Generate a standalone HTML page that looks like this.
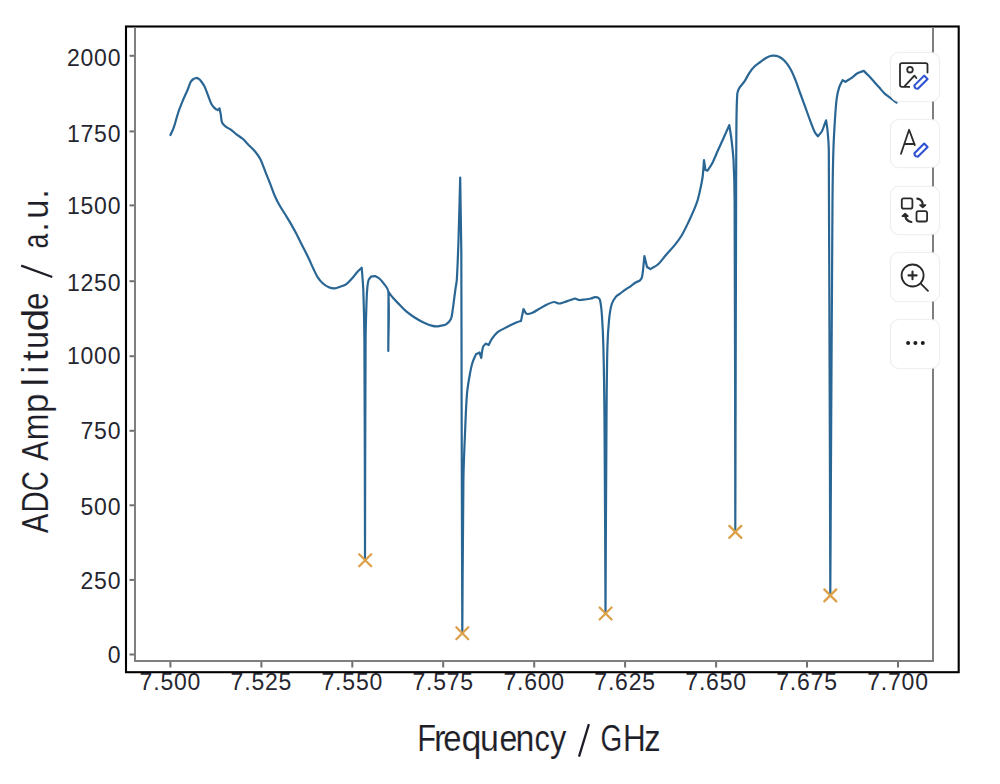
<!DOCTYPE html>
<html><head><meta charset="utf-8"><style>
html,body{margin:0;padding:0;background:#fff;width:1000px;height:784px;overflow:hidden;}
svg{position:absolute;left:0;top:0;}
.tl{font-family:"Liberation Sans",sans-serif;font-size:23px;fill:#262630;letter-spacing:0.8px;}
.lab{font-family:"Liberation Sans",sans-serif;font-size:36.5px;fill:#1e1e28;stroke:#fff;stroke-width:0.15px;}
.btn{position:absolute;left:890px;width:50px;height:49.5px;box-sizing:border-box;border:1.5px solid #efefef;border-radius:9px;background:#fff;box-shadow:0 0 2px rgba(0,0,0,0.05);}
</style></head><body>
<svg width="1000" height="784" viewBox="0 0 1000 784">
<rect x="126" y="26.5" width="832.7" height="645.7" fill="none" stroke="#000" stroke-width="2.1"/>
<path d="M135 27 V661 H933 V27" fill="none" stroke="#7f7f7f" stroke-width="2"/>
<line x1="129.5" y1="654.5" x2="134" y2="654.5" stroke="#6f6f6f" stroke-width="2"/>
<text x="121.3" y="662.5" text-anchor="end" class="tl">0</text>
<line x1="129.5" y1="579.9" x2="134" y2="579.9" stroke="#6f6f6f" stroke-width="2"/>
<text x="121.3" y="588.7" text-anchor="end" class="tl">250</text>
<line x1="129.5" y1="505.3" x2="134" y2="505.3" stroke="#6f6f6f" stroke-width="2"/>
<text x="121.3" y="514.7" text-anchor="end" class="tl">500</text>
<line x1="129.5" y1="430.8" x2="134" y2="430.8" stroke="#6f6f6f" stroke-width="2"/>
<text x="121.3" y="438.9" text-anchor="end" class="tl">750</text>
<line x1="129.5" y1="356.2" x2="134" y2="356.2" stroke="#6f6f6f" stroke-width="2"/>
<text x="121.3" y="363.5" text-anchor="end" class="tl">1000</text>
<line x1="129.5" y1="281.2" x2="134" y2="281.2" stroke="#6f6f6f" stroke-width="2"/>
<text x="121.3" y="291.2" text-anchor="end" class="tl">1250</text>
<line x1="129.5" y1="205.4" x2="134" y2="205.4" stroke="#6f6f6f" stroke-width="2"/>
<text x="121.3" y="213.7" text-anchor="end" class="tl">1500</text>
<line x1="129.5" y1="131.4" x2="134" y2="131.4" stroke="#6f6f6f" stroke-width="2"/>
<text x="121.3" y="141.7" text-anchor="end" class="tl">1750</text>
<line x1="129.5" y1="55.8" x2="134" y2="55.8" stroke="#6f6f6f" stroke-width="2"/>
<text x="121.3" y="65.8" text-anchor="end" class="tl">2000</text>
<line x1="170.4" y1="662" x2="170.4" y2="667.5" stroke="#6f6f6f" stroke-width="2"/>
<text x="170.4" y="689.9" text-anchor="middle" class="tl">7.500</text>
<line x1="261.4" y1="662" x2="261.4" y2="667.5" stroke="#6f6f6f" stroke-width="2"/>
<text x="261.4" y="689.9" text-anchor="middle" class="tl">7.525</text>
<line x1="352.3" y1="662" x2="352.3" y2="667.5" stroke="#6f6f6f" stroke-width="2"/>
<text x="352.3" y="689.9" text-anchor="middle" class="tl">7.550</text>
<line x1="443.2" y1="662" x2="443.2" y2="667.5" stroke="#6f6f6f" stroke-width="2"/>
<text x="443.2" y="689.9" text-anchor="middle" class="tl">7.575</text>
<line x1="534.2" y1="662" x2="534.2" y2="667.5" stroke="#6f6f6f" stroke-width="2"/>
<text x="534.2" y="689.9" text-anchor="middle" class="tl">7.600</text>
<line x1="625.1" y1="662" x2="625.1" y2="667.5" stroke="#6f6f6f" stroke-width="2"/>
<text x="625.1" y="689.9" text-anchor="middle" class="tl">7.625</text>
<line x1="716.1" y1="662" x2="716.1" y2="667.5" stroke="#6f6f6f" stroke-width="2"/>
<text x="716.1" y="689.9" text-anchor="middle" class="tl">7.650</text>
<line x1="807.0" y1="662" x2="807.0" y2="667.5" stroke="#6f6f6f" stroke-width="2"/>
<text x="807.0" y="689.9" text-anchor="middle" class="tl">7.675</text>
<line x1="898.0" y1="662" x2="898.0" y2="667.5" stroke="#6f6f6f" stroke-width="2"/>
<text x="898.0" y="689.9" text-anchor="middle" class="tl">7.700</text>
<path d="M170.40 135.00 C171.57 132.37 172.96 129.82 173.90 127.10 C175.62 122.15 176.72 116.97 178.40 112.00 C179.72 108.07 181.31 104.23 182.90 100.40 C184.28 97.06 185.89 93.82 187.30 90.50 C188.55 87.56 189.41 84.37 190.90 81.60 C191.47 80.54 192.51 79.69 193.50 79.00 C194.28 78.45 195.30 78.27 196.20 77.90 C196.97 78.13 197.84 78.19 198.50 78.60 C199.34 79.12 200.08 79.91 200.70 80.70 C202.01 82.37 203.34 84.10 204.30 86.00 C205.74 88.87 206.71 92.00 207.90 95.00 C209.08 97.96 209.92 101.11 211.40 103.90 C212.29 105.58 213.66 107.06 215.00 108.40 C215.76 109.16 216.80 109.60 217.70 110.20 C218.30 109.60 218.90 109.00 219.50 108.40 C219.93 110.47 220.42 112.52 220.80 114.60 C221.29 117.29 221.11 120.26 222.10 122.70 C222.75 124.30 224.31 125.60 225.70 126.70 C227.31 127.97 229.41 128.60 231.10 129.80 C232.98 131.14 234.57 132.89 236.40 134.30 C238.43 135.87 240.76 137.08 242.70 138.75 C244.53 140.32 246.01 142.27 247.70 144.00 C250.21 146.58 253.01 148.94 255.30 151.70 C257.24 154.04 259.04 156.59 260.40 159.30 C262.44 163.39 263.79 167.84 265.50 172.10 C267.19 176.34 268.95 180.55 270.60 184.80 C271.91 188.18 272.96 191.68 274.40 195.00 C275.92 198.51 277.63 201.96 279.50 205.30 C281.46 208.80 283.79 212.09 285.90 215.50 C287.46 218.02 289.03 220.53 290.50 223.10 C292.43 226.46 294.30 229.86 296.10 233.30 C298.20 237.33 300.16 241.44 302.20 245.50 C304.26 249.60 306.41 253.66 308.40 257.80 C310.18 261.50 311.74 265.30 313.50 269.00 C314.80 271.73 315.97 274.57 317.60 277.10 C319.04 279.34 320.74 281.52 322.70 283.30 C324.48 284.92 326.60 286.38 328.80 287.30 C330.67 288.08 332.90 288.49 334.90 288.40 C336.63 288.32 338.33 287.41 340.00 286.80 C342.06 286.05 344.34 285.54 346.10 284.30 C348.41 282.68 350.27 280.32 352.20 278.20 C354.00 276.22 355.51 273.98 357.30 272.00 C358.67 270.48 360.23 269.13 361.70 267.70 C362.23 275.13 363.02 282.55 363.30 290.00 C363.92 306.65 364.30 323.33 364.40 340.00 C364.86 413.33 364.80 486.67 365.00 560.00 C365.20 486.67 365.15 413.33 365.60 340.00 C365.68 326.66 366.15 313.33 366.60 300.00 C366.75 295.66 366.97 291.31 367.40 287.00 C367.64 284.65 367.84 282.19 368.60 280.00 C369.04 278.72 370.20 277.73 371.00 276.60 C372.30 276.40 373.60 276.20 374.90 276.00 C376.37 276.83 378.03 277.42 379.30 278.50 C381.00 279.95 382.50 281.75 383.80 283.60 C385.50 286.02 388.11 288.38 388.30 291.30 C389.61 310.85 388.30 331.10 388.30 351.00 C388.37 331.33 388.43 311.67 388.50 292.00 C390.13 294.10 391.66 296.29 393.40 298.30 C395.36 300.56 397.51 302.66 399.60 304.80 C401.71 306.96 403.74 309.22 406.00 311.20 C408.00 312.95 410.20 314.49 412.40 316.00 C414.47 317.42 416.61 318.77 418.80 320.00 C420.88 321.17 423.02 322.25 425.20 323.20 C427.28 324.11 429.42 324.98 431.60 325.60 C433.15 326.04 434.80 326.40 436.40 326.40 C438.00 326.40 439.61 325.93 441.20 325.60 C442.81 325.26 444.68 325.28 446.00 324.40 C447.88 323.14 449.76 321.22 450.80 319.20 C451.89 317.09 452.00 314.42 452.40 312.00 C453.06 308.02 453.47 304.00 454.00 300.00 C454.53 296.00 455.04 292.00 455.60 288.00 C455.97 285.33 456.64 282.69 456.80 280.00 C457.60 266.69 458.06 253.34 458.50 240.00 C459.19 219.20 459.63 198.40 460.20 177.60 C460.57 201.73 461.15 225.86 461.30 250.00 C461.61 300.00 461.47 350.00 461.60 400.00 C461.80 477.67 462.07 555.33 462.30 633.00 C462.67 582.00 462.68 530.99 463.40 480.00 C463.64 462.99 464.49 446.00 465.20 429.00 C465.69 417.20 466.03 405.36 467.00 393.60 C467.50 387.60 468.57 381.64 469.60 375.70 C470.33 371.50 471.10 367.27 472.30 363.20 C473.20 360.14 474.70 357.27 475.90 354.30 C477.10 353.70 478.30 353.10 479.50 352.50 C480.08 354.30 480.67 356.10 481.25 357.90 C481.83 354.27 481.94 350.42 483.00 347.00 C483.42 345.65 484.80 344.73 485.70 343.60 C486.67 344.07 487.63 344.53 488.60 345.00 C489.70 342.97 490.58 340.78 491.90 338.90 C493.58 336.51 495.40 334.07 497.60 332.20 C499.53 330.57 502.04 329.61 504.30 328.40 C506.84 327.04 509.40 325.74 512.00 324.50 C513.87 323.61 515.77 322.75 517.70 322.00 C518.77 321.58 519.90 321.33 521.00 321.00 C521.83 317.00 522.67 313.00 523.50 309.00 C524.33 310.50 525.17 312.00 526.00 313.50 C526.67 313.67 527.34 314.09 528.00 314.00 C529.67 313.76 531.43 313.22 533.00 312.50 C535.09 311.55 536.99 310.15 539.00 309.00 C541.66 307.48 544.24 305.79 547.00 304.50 C549.24 303.46 551.65 302.20 554.00 302.00 C555.65 301.86 557.32 303.47 559.00 303.50 C560.66 303.53 562.35 302.69 564.00 302.20 C565.68 301.69 567.33 301.06 569.00 300.50 C571.00 299.83 573.00 299.17 575.00 298.50 C576.33 299.00 577.62 299.86 579.00 300.00 C580.95 300.19 583.01 299.75 585.00 299.50 C587.01 299.25 589.03 298.95 591.00 298.50 C592.36 298.19 593.64 297.39 595.00 297.20 C595.97 297.06 597.00 297.40 598.00 297.50 C598.67 298.33 599.77 298.98 600.00 300.00 C601.07 304.81 601.54 309.98 601.90 315.00 C602.67 325.84 603.13 336.73 603.40 347.60 C604.00 371.73 604.31 395.86 604.50 420.00 C605.01 484.33 605.17 548.67 605.50 613.00 C605.83 548.67 606.04 484.33 606.50 420.00 C606.67 395.87 606.78 371.72 607.40 347.60 C607.64 338.19 608.17 328.76 609.10 319.40 C609.61 314.29 610.23 309.05 611.70 304.20 C612.53 301.45 614.21 298.82 616.00 296.60 C617.11 295.22 618.95 294.49 620.40 293.40 C621.85 292.32 623.22 291.14 624.70 290.10 C626.82 288.61 629.07 287.29 631.20 285.80 C632.70 284.75 634.05 283.45 635.60 282.50 C636.98 281.65 638.83 281.42 640.00 280.40 C641.00 279.52 641.86 278.15 642.10 276.80 C643.32 270.02 643.63 262.93 644.40 256.00 C645.27 259.67 646.13 263.33 647.00 267.00 C648.17 267.70 649.33 268.40 650.50 269.10 C653.07 267.47 655.96 266.21 658.20 264.20 C660.90 261.78 662.91 258.58 665.30 255.80 C668.54 252.04 672.01 248.48 675.10 244.60 C677.61 241.44 680.06 238.18 682.10 234.70 C684.73 230.21 686.87 225.41 689.10 220.70 C691.07 216.55 692.94 212.34 694.70 208.10 C695.80 205.44 696.90 202.76 697.70 200.00 C698.83 196.13 699.66 192.15 700.50 188.20 C701.29 184.49 702.13 180.76 702.60 177.00 C703.30 171.40 703.53 165.73 704.00 160.10 C704.47 163.40 704.93 166.70 705.40 170.00 C706.10 170.20 706.80 170.40 707.50 170.60 C709.13 168.03 711.01 165.60 712.40 162.90 C714.51 158.83 716.12 154.49 718.00 150.30 C719.89 146.09 721.81 141.91 723.70 137.70 C725.58 133.51 727.43 129.30 729.30 125.10 C730.00 129.73 730.84 134.35 731.40 139.00 C732.24 145.98 733.13 152.98 733.50 160.00 C734.20 173.31 734.54 186.66 734.60 200.00 C735.14 310.33 735.07 420.67 735.30 531.00 C735.57 420.67 735.82 310.33 736.10 200.00 C736.15 180.00 736.07 160.00 736.30 140.00 C736.47 124.50 736.31 108.87 737.30 93.50 C737.44 91.33 738.60 89.26 739.70 87.40 C741.00 85.22 743.08 83.52 744.50 81.40 C746.31 78.69 747.59 75.62 749.40 72.90 C750.83 70.75 752.38 68.62 754.20 66.80 C756.02 64.98 758.23 63.55 760.30 62.00 C762.29 60.51 764.22 58.84 766.40 57.70 C768.25 56.74 770.36 55.90 772.40 55.70 C774.39 55.50 776.67 55.73 778.50 56.50 C780.70 57.43 782.82 59.04 784.50 60.80 C786.86 63.27 788.90 66.21 790.60 69.20 C792.57 72.67 794.01 76.47 795.50 80.20 C797.25 84.57 798.69 89.07 800.30 93.50 C801.92 97.94 803.59 102.36 805.20 106.80 C806.82 111.26 808.33 115.76 810.00 120.20 C811.53 124.26 812.90 128.44 814.80 132.30 C815.54 133.80 816.87 134.97 817.90 136.30 C819.23 134.60 820.83 133.05 821.90 131.20 C822.93 129.42 823.45 127.34 824.20 125.40 C824.85 123.71 825.47 122.00 826.10 120.30 C826.60 123.93 827.27 127.55 827.60 131.20 C828.17 137.45 828.76 143.72 828.80 150.00 C829.66 297.99 829.80 446.00 830.30 594.00 C831.03 462.67 831.58 331.33 832.50 200.00 C832.62 183.33 832.88 166.66 833.40 150.00 C833.74 139.13 834.39 128.26 835.10 117.40 C835.52 110.89 835.93 104.35 836.80 97.90 C837.27 94.42 838.02 90.93 839.10 87.60 C839.95 84.99 841.43 82.60 842.60 80.10 C843.53 80.67 844.47 81.23 845.40 81.80 C845.97 81.43 846.53 81.06 847.10 80.70 C848.63 79.73 850.23 78.86 851.70 77.80 C853.70 76.36 855.38 74.41 857.50 73.20 C859.42 72.11 861.70 71.67 863.80 70.90 C865.53 72.63 867.31 74.32 869.00 76.10 C870.95 78.15 872.81 80.29 874.70 82.40 C876.24 84.12 877.76 85.88 879.30 87.60 C881.19 89.71 882.95 91.97 885.00 93.90 C886.38 95.20 888.07 96.16 889.60 97.30 C891.91 99.02 894.20 100.77 896.50 102.50" fill="none" stroke="#2a6694" stroke-width="2.2" stroke-linejoin="round" stroke-linecap="round"/>
<path d="M359.2 554.2 L371.2 566.2 M359.2 566.2 L371.2 554.2" stroke="#dca04a" stroke-width="2.3" stroke-linecap="round"/>
<path d="M456.3 627.3 L468.3 639.3 M456.3 639.3 L468.3 627.3" stroke="#dca04a" stroke-width="2.3" stroke-linecap="round"/>
<path d="M599.6 607.5 L611.6 619.5 M599.6 619.5 L611.6 607.5" stroke="#dca04a" stroke-width="2.3" stroke-linecap="round"/>
<path d="M729.3 525.9 L741.3 537.9 M729.3 537.9 L741.3 525.9" stroke="#dca04a" stroke-width="2.3" stroke-linecap="round"/>
<path d="M824.3 589.4 L836.3 601.4 M824.3 601.4 L836.3 589.4" stroke="#dca04a" stroke-width="2.3" stroke-linecap="round"/>
<path d="M52.3 277 L21.2 265.7 M579 756.6 L588.9 724.1" stroke="#1e1e28" stroke-width="2.3" stroke-linecap="butt"/>
<text x="-0.10" y="0" class="lab" transform="translate(47.9,533.00) rotate(-90) scale(0.7934,1)">A</text>
<text x="-3.00" y="0" class="lab" transform="translate(47.9,510.00) rotate(-90) scale(0.8009,1)">D</text>
<text x="-1.90" y="0" class="lab" transform="translate(47.9,489.70) rotate(-90) scale(0.7652,1)">C</text>
<text x="-0.10" y="0" class="lab" transform="translate(47.9,460.60) rotate(-90) scale(0.8017,1)">A</text>
<text x="-2.40" y="0" class="lab" transform="translate(47.9,438.20) rotate(-90) scale(0.8789,1)">m</text>
<text x="-2.40" y="0" class="lab" transform="translate(47.9,411.00) rotate(-90) scale(0.9817,1)">p</text>
<text x="-2.50" y="0" class="lab" transform="translate(47.9,383.75) rotate(-90) scale(1.0000,1)">l</text>
<text x="-2.40" y="0" class="lab" transform="translate(47.9,371.35) rotate(-90) scale(1.0000,1)">i</text>
<text x="-0.60" y="0" class="lab" transform="translate(47.9,360.60) rotate(-90) scale(1.0645,1)">t</text>
<text x="-2.40" y="0" class="lab" transform="translate(47.9,347.00) rotate(-90) scale(0.8839,1)">u</text>
<text x="-1.50" y="0" class="lab" transform="translate(47.9,329.70) rotate(-90) scale(1.1280,1)">d</text>
<text x="-1.60" y="0" class="lab" transform="translate(47.9,308.70) rotate(-90) scale(0.8596,1)">e</text>
<text x="-1.60" y="0" class="lab" transform="translate(47.9,247.40) rotate(-90) scale(0.7273,1)">a</text>
<text x="-3.30" y="0" class="lab" transform="translate(47.9,228.80) rotate(-90) scale(1.0000,1)">.</text>
<text x="-2.40" y="0" class="lab" transform="translate(47.9,216.50) rotate(-90) scale(0.9484,1)">u</text>
<text x="-3.30" y="0" class="lab" transform="translate(47.9,195.70) rotate(-90) scale(1.0000,1)">.</text>
<text x="-3.00" y="0" class="lab" transform="translate(419.8,751) scale(0.8427,1)">F</text>
<text x="-2.40" y="0" class="lab" transform="translate(436.3,751) scale(0.9560,1)">r</text>
<text x="-1.60" y="0" class="lab" transform="translate(444.6,751) scale(0.9006,1)">e</text>
<text x="-1.50" y="0" class="lab" transform="translate(463,751) scale(0.9818,1)">q</text>
<text x="-2.40" y="0" class="lab" transform="translate(482.2,751) scale(0.9290,1)">u</text>
<text x="-1.60" y="0" class="lab" transform="translate(500.8,751) scale(0.8772,1)">e</text>
<text x="-2.40" y="0" class="lab" transform="translate(517.8,751) scale(0.9290,1)">n</text>
<text x="-1.60" y="0" class="lab" transform="translate(535.8,751) scale(0.8408,1)">c</text>
<text x="-0.10" y="0" class="lab" transform="translate(550.2,751) scale(0.8950,1)">y</text>
<text x="-1.80" y="0" class="lab" transform="translate(601.8,751) scale(0.7657,1)">G</text>
<text x="-3.00" y="0" class="lab" transform="translate(625.5,751) scale(0.8627,1)">H</text>
<text x="-1.50" y="0" class="lab" transform="translate(645.7,751) scale(0.8993,1)">z</text>
</svg>
<div class="btn" style="top:52.0px"></div>
<div class="btn" style="top:118.75px"></div>
<div class="btn" style="top:185.5px"></div>
<div class="btn" style="top:252.25px"></div>
<div class="btn" style="top:319.0px"></div>
<svg width="1000" height="784" viewBox="0 0 1000 784" style="pointer-events:none">
<g fill="none" stroke="#2b2b2b" stroke-width="1.8" stroke-linecap="round" stroke-linejoin="round">
 <path d="M927.5 72.5 V65 Q927.5 63.1 925.6 63.1 H902 Q900 63.1 900 65 V85 Q900 86.9 902 86.9 H909.3"/>
 <circle cx="910" cy="69.7" r="2.8"/>
 <path d="M904.7 86.2 L914.4 75.7 L916.4 78"/>
 <path d="M901 153.8 L909.1 129.8 L914.8 145.1 M904.6 144 H914.5"/>
 <rect x="901.8" y="198.3" width="10.6" height="10.4" rx="2"/>
 <rect x="916.5" y="211.1" width="10.6" height="10.4" rx="2"/>
 <path d="M917.3 198.6 Q922.4 199.3 922.7 204.5" stroke-width="2.1"/>
 <path d="M911.4 222 Q905.9 221 905.15 215.5" stroke-width="2.1"/>
 <circle cx="912.6" cy="275.5" r="11"/>
 <path d="M908.5 275.4 H916.6 M912.5 271.6 V279.3" stroke-width="2.1"/><path d="M920.8 283.6 L928 290.8"/>
</g>
<g fill="#1c1c1c">
 <path d="M920 205.1 H925.5 L922.75 207.5 Z" stroke="#2b2b2b" stroke-width="1.6" stroke-linejoin="round"/>
 <path d="M902.4 216.2 H907.9 L905.15 213.6 Z" stroke="#2b2b2b" stroke-width="1.6" stroke-linejoin="round"/>
 <circle cx="908.1" cy="342.9" r="2"/><circle cx="915.4" cy="342.9" r="2"/><circle cx="922.8" cy="342.9" r="2"/>
</g>
<g fill="none" stroke="#2f52d2" stroke-width="2.1" stroke-linejoin="round">
 <path d="M-6.9 -2.4 H6.9 V2.4 H-6.9 Q-9.3 0 -6.9 -2.4 Z" transform="translate(921 82.2) rotate(-45)"/>
 <path d="M-6.9 -2.4 H6.9 V2.4 H-6.9 Q-9.3 0 -6.9 -2.4 Z" transform="translate(921 150.1) rotate(-45)"/>
</g>
</svg>
</body></html>
